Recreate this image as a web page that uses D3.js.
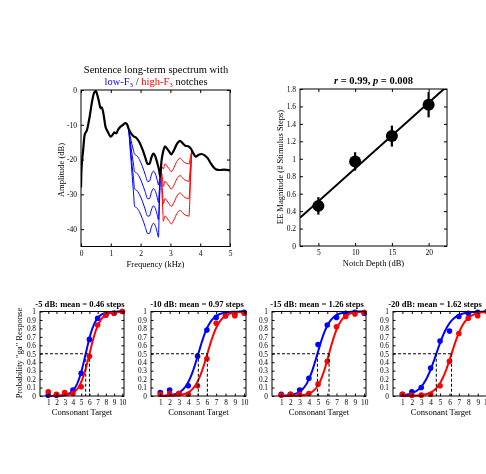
<!DOCTYPE html>
<html><head><meta charset="utf-8">
<script src="https://cdn.jsdelivr.net/npm/d3@7"></script>
<style>
html,body{margin:0;padding:0;background:#fff;}
svg{display:block;color:#000;-webkit-font-smoothing:antialiased;will-change:transform;}
svg text{font-family:"Liberation Serif","DejaVu Serif",serif;fill:#000;}
</style></head><body>
<script>
// ---------- DATA ----------
// Spectrum (top-left)
const specFreq = [0,0.01,0.04,0.07,0.12,0.2,0.29,0.37,0.44,0.5,0.55,0.6,0.66,0.7,0.77,0.82,0.9,1.0,1.06,1.12,1.18,1.24,1.32,1.4,1.48,1.54,1.6,1.68,1.76,1.86,1.96,2.06,2.15,2.24,2.3,2.36,2.43,2.5,2.56,2.62,2.66,2.7,2.75,2.82,2.88,2.95,3.03,3.12,3.22,3.32,3.4,3.5,3.6,3.68,3.76,3.85,3.95,4.05,4.15,4.25,4.35,4.45,4.55,4.65,4.8,5.0];
const specAmp  = [-28,-24,-20,-17.5,-13,-11.5,-7.7,-3.4,-0.8,-0.3,-1.5,-3.2,-5.3,-5,-7.7,-10.5,-12,-13.4,-12.9,-12.2,-12.5,-11.5,-10.6,-10.1,-9.5,-9.8,-11.2,-12.5,-13.3,-13.8,-15,-17,-19.2,-21.3,-21.2,-19.5,-18.3,-19.2,-21,-23,-25,-20.5,-18,-16.2,-16.8,-17.6,-18.5,-17.3,-15.5,-14.6,-15.2,-16,-16.2,-16.8,-18,-19.2,-18.6,-18.4,-18.8,-19.6,-21,-22.2,-22.9,-23,-22.9,-23.1];
const notchDepths = [5,10,15,20];
const lowNotchEdges  = [1.6,1.8,2.6,2.66];   // start, full, end-full, end (kHz)
const highNotchEdges = [2.67,2.76,3.62,3.72];
const specXTicks = [0,1,2,3,4,5];
const specYTicks = [0,-10,-20,-30,-40];

// EE magnitude (top-right)
const notchDepth = [5,10,15,20];
const eeMag      = [0.46,0.97,1.26,1.62];
const eeErr      = [0.10,0.105,0.12,0.145];
const eeXTicks = [5,10,15,20];
const eeYTicks = [0,0.2,0.4,0.6,0.8,1,1.2,1.4,1.6,1.8];

// Psychometric panels (bottom)
const panelTitles = ["-5 dB: mean = 0.46 steps","-10 dB: mean = 0.97 steps","-15 dB: mean = 1.26 steps","-20 dB: mean = 1.62 steps"];
const consonantSteps = [1,2,3,4,5,6,7,8,9,10];
const blueResp = [
  [0.01,0.01,0.03,0.07,0.27,0.67,0.92,0.96,0.98,1.0],
  [0.04,0.07,0.03,0.12,0.47,0.78,0.93,0.95,0.97,0.99],
  [0.02,0.02,0.07,0.21,0.61,0.84,0.93,0.98,0.99,0.98],
  [0.02,0.05,0.10,0.33,0.65,0.77,0.94,0.98,0.99,1.0]
];
const redResp = [
  [0.05,0.02,0.04,0.03,0.11,0.47,0.84,0.96,0.98,1.0],
  [0.02,0.03,0.03,0.02,0.12,0.44,0.86,0.95,0.95,0.98],
  [0.01,0.02,0.02,0.03,0.14,0.41,0.82,0.94,0.97,0.99],
  [0.02,0.01,0.01,0.02,0.12,0.41,0.74,0.92,0.95,1.0]
];
const blueThresh = [5.55,5.08,4.93,4.60];
const redThresh  = [6.01,6.05,6.19,6.22];
const blueSlope  = [1.7,1.5,1.5,1.3];
const redSlope   = [1.6,1.5,1.6,1.4];
const psyYTicks = [0,0.1,0.2,0.3,0.4,0.5,0.6,0.7,0.8,0.9,1];

// ---------- DRAW ----------
const W=486,H=474;
const svg=d3.select("body").append("svg").attr("width",W).attr("height",H);
const BLUE="#0000ff", RED="#ff0000";
const plain=d=>String(d);

function boxAxes(g,x,y,xt,yt,fmtX,fmtY,fs,tl){
  const [x0,x1]=x.range(), [y0,y1]=y.range();
  const style=a=>{a.attr("fill",null).select(".domain").remove();a.selectAll("text").attr("fill","#000").style("fill","#000").style("font-size",fs+"px").attr("font-family",null);a.selectAll("line").attr("stroke","#000");};
  g.append("g").attr("transform",`translate(0,${y0})`)
    .call(d3.axisBottom(x).tickValues(xt).tickSizeInner(-tl).tickSizeOuter(0).tickPadding(4).tickFormat(fmtX)).call(style);
  g.append("g").attr("transform",`translate(0,${y1})`)
    .call(d3.axisTop(x).tickValues(xt).tickSizeInner(-tl).tickSizeOuter(0).tickFormat("")).call(style);
  g.append("g").attr("transform",`translate(${x0},0)`)
    .call(d3.axisLeft(y).tickValues(yt).tickSizeInner(-tl).tickSizeOuter(0).tickPadding(4).tickFormat(fmtY)).call(style);
  g.append("g").attr("transform",`translate(${x1},0)`)
    .call(d3.axisRight(y).tickValues(yt).tickSizeInner(-tl).tickSizeOuter(0).tickFormat("")).call(style);
  g.append("rect").attr("x",x0).attr("y",y1).attr("width",x1-x0).attr("height",y0-y1)
    .attr("fill","none").attr("stroke","#000").attr("stroke-width",1);
}
function label(g,txt,x,y,fs,rot){
  return g.append("text").attr("transform",`translate(${x},${y})`+(rot?" rotate(-90)":""))
    .attr("text-anchor","middle").attr("fill","#000").style("fill","#000").style("font-size",fs+"px").text(txt);
}

// ===== Top-left: spectrum =====
{
  const g=svg.append("g");
  const x=d3.scaleLinear().domain([0,5]).range([81,230]);
  const y=d3.scaleLinear().domain([-45,0]).range([246.5,90]);
  const spec=specFreq.map((f,i)=>({f,a:specAmp[i]}));
  const line=d3.line().x(d=>x(d.f)).y(d=>y(d.a)).curve(d3.curveMonotoneX);
  function gainAt(f,e){
    if(f<=e[0]||f>=e[3]) return 0;
    if(f<e[1]) return (f-e[0])/(e[1]-e[0]);
    if(f>e[2]) return (e[3]-f)/(e[3]-e[2]);
    return 1;
  }
  const base=f=>{ // linear read of the black spectrum
    const j=Math.min(specFreq.length-1,Math.max(1,d3.bisectLeft(specFreq,f)));
    const f0=specFreq[j-1],f1=specFreq[j],a0=specAmp[j-1],a1=specAmp[j];
    return a0+(a1-a0)*(f-f0)/(f1-f0||1);
  };
  function notched(e,depth){
    const fs=specFreq.filter(f=>f>e[0]&&f<e[3]);
    const pts=[...new Set([e[0],e[1],...fs,e[2],e[3]])].sort((a,b)=>a-b);
    return pts.map(f=>({f,a:base(f)-depth*gainAt(f,e)}));
  }
  g.append("clipPath").attr("id","clipSpec").append("rect").attr("x",81).attr("y",90).attr("width",149).attr("height",156.5);
  const pg=g.append("g").attr("clip-path","url(#clipSpec)");
  notchDepths.forEach(d=>{
    pg.append("path").datum(notched(lowNotchEdges,d)).attr("d",line)
      .attr("fill","none").attr("stroke",BLUE).attr("stroke-width",1);
    pg.append("path").datum(notched(highNotchEdges,d)).attr("d",line)
      .attr("fill","none").attr("stroke",RED).attr("stroke-width",1);
  });
  pg.append("path").datum(spec).attr("d",line)
    .attr("fill","none").attr("stroke","#000").attr("stroke-width",2.2).attr("stroke-linejoin","round");
  boxAxes(g,x,y,specXTicks,specYTicks,plain,plain,7.5,3);
  label(g,"Sentence long-term spectrum with",156,73,10.5);
  const t2=g.append("text").attr("x",156).attr("y",85).attr("text-anchor","middle").style("font-size","10.5px");
  t2.append("tspan").style("fill",BLUE).text("low-F");
  t2.append("tspan").style("fill",BLUE).style("font-size","7px").attr("dy",2).text("3");
  t2.append("tspan").style("fill","#000").attr("dy",-2).text(" / ");
  t2.append("tspan").style("fill",RED).text("high-F");
  t2.append("tspan").style("fill",RED).style("font-size","7px").attr("dy",2).text("3");
  t2.append("tspan").style("fill","#000").attr("dy",-2).text(" notches");
  label(g,"Frequency (kHz)",155.5,267,8.5);
  label(g,"Amplitude (dB)",64,170,8.5,true);
}

// ===== Top-right: EE magnitude =====
{
  const g=svg.append("g");
  const x=d3.scaleLinear().domain([2.5,22.5]).range([300,447]);
  const y=d3.scaleLinear().domain([0,1.8]).range([246,89]);
  g.append("clipPath").attr("id","clipEE").append("rect").attr("x",300).attr("y",89).attr("width",147).attr("height",157);
  // least-squares fit
  const mx=d3.mean(notchDepth), my=d3.mean(eeMag);
  const slope=d3.sum(notchDepth.map((v,i)=>(v-mx)*(eeMag[i]-my)))/d3.sum(notchDepth.map(v=>(v-mx)*(v-mx)));
  const icpt=my-slope*mx;
  const fit=x.domain().map(v=>({v,y:icpt+slope*v}));
  g.append("path").datum(fit).attr("clip-path","url(#clipEE)")
    .attr("d",d3.line().x(d=>x(d.v)).y(d=>y(d.y))).attr("fill","none").attr("stroke","#000").attr("stroke-width",2);
  notchDepth.forEach((v,i)=>{
    g.append("line").attr("x1",x(v)).attr("x2",x(v)).attr("y1",y(eeMag[i]-eeErr[i])).attr("y2",y(eeMag[i]+eeErr[i]))
      .attr("stroke","#000").attr("stroke-width",2.2);
    g.append("circle").attr("cx",x(v)).attr("cy",y(eeMag[i])).attr("r",6).attr("fill","#000");
  });
  boxAxes(g,x,y,eeXTicks,eeYTicks,plain,plain,7.5,3);
  const t=g.append("text").attr("x",373.5).attr("y",84).attr("text-anchor","middle").style("font-size","10.5px").style("font-weight","bold");
  t.append("tspan").style("font-style","italic").text("r");
  t.append("tspan").text(" = 0.99, ");
  t.append("tspan").style("font-style","italic").text("p");
  t.append("tspan").text(" = 0.008");
  label(g,"Notch Depth (dB)",373.5,266,8.5);
  label(g,"EE Magnitude (# Stimulus Steps)",283,167,8.5,true);
}

// ===== Bottom: psychometric panels =====
const panelX=[[40,124],[151,246],[272,366],[393,489]];
const titleX=[80,197,317,435];
panelX.forEach((rx,p)=>{
  const g=svg.append("g");
  const x=d3.scaleLinear().domain([0,10.2]).range(rx);
  const y=d3.scaleLinear().domain([0,1]).range([396,311.5]);
  const logistic=(mu,k)=>v=>1/(1+Math.exp(-k*(v-mu)));
  const xs=d3.range(1,10.001,0.05);
  const ln=d3.line().x(d=>x(d[0])).y(d=>y(d[1]));
  const series=[[blueResp[p],blueThresh[p],blueSlope[p],BLUE],[redResp[p],redThresh[p],redSlope[p],RED]];
  series.forEach(([resp,mu,k,col])=>{
    const fn=logistic(mu,k);
    g.append("path").datum(xs.map(v=>[v,fn(v)])).attr("d",ln).attr("fill","none").attr("stroke",col).attr("stroke-width",2);
    g.selectAll(null).data(consonantSteps).enter().append("circle")
      .attr("cx",d=>x(d)).attr("cy",(d,i)=>y(resp[i])).attr("r",2.8).attr("fill",col);
  });
  const dash="3,2";
  g.append("line").attr("x1",x(0)).attr("x2",x(redThresh[p])).attr("y1",y(0.5)).attr("y2",y(0.5))
    .attr("stroke","#000").attr("stroke-width",1).attr("stroke-dasharray",dash);
  [blueThresh[p],redThresh[p]].forEach(t=>{
    g.append("line").attr("x1",x(t)).attr("x2",x(t)).attr("y1",y(0.5)).attr("y2",y(0))
      .attr("stroke","#000").attr("stroke-width",1).attr("stroke-dasharray",dash);
  });
  boxAxes(g,x,y,consonantSteps,psyYTicks,plain,d=>d===0?"0":d===1?"1":d3.format(".1f")(d),7.3,2.5);
  g.append("text").attr("x",titleX[p]).attr("y",307).attr("text-anchor","middle")
    .style("font-size","8.6px").style("font-weight","bold").text(panelTitles[p]);
  label(g,"Consonant Target",(rx[0]+rx[1])/2,415,8.6);
  if(p===0) label(g,'Probability "ga" Response',22,353,8.6,true);
});
</script>
</body></html>
